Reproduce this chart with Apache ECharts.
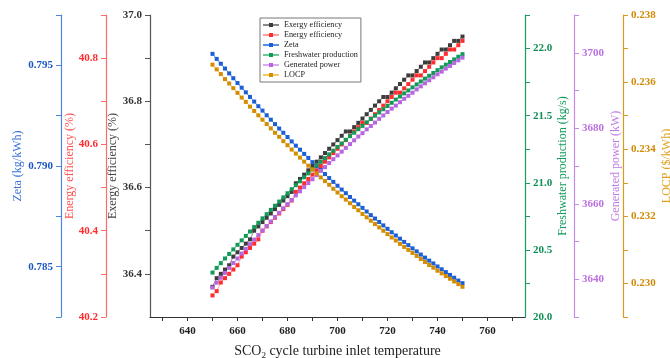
<!DOCTYPE html>
<html>
<head>
<meta charset="utf-8">
<script src="https://cdn.jsdelivr.net/npm/echarts@6/dist/echarts.min.js"></script>
<style>
html,body{margin:0;padding:0;background:#fff;}
#chart{width:670px;height:358px;}
</style>
</head>
<body>
<div id="chart"></div>
<script>
// turbine inlet temperature, 61 points from 650 to 750
var temps = [650,651.67,653.33,655,656.67,658.33,660,661.67,663.33,665,666.67,668.33,670,671.67,673.33,675,676.67,678.33,680,681.67,683.33,685,686.67,688.33,690,691.67,693.33,695,696.67,698.33,700,701.67,703.33,705,706.67,708.33,710,711.67,713.33,715,716.67,718.33,720,721.67,723.33,725,726.67,728.33,730,731.67,733.33,735,736.67,738.33,740,741.67,743.33,745,746.67,748.33,750];

var exergyEff = [36.37,36.39,36.40,36.41,36.42,36.44,36.45,36.46,36.47,36.48,36.50,36.51,36.52,36.53,36.54,36.55,36.56,36.57,36.58,36.59,36.61,36.62,36.63,36.64,36.65,36.66,36.67,36.68,36.69,36.70,36.71,36.72,36.73,36.73,36.74,36.75,36.76,36.77,36.78,36.79,36.80,36.81,36.81,36.82,36.83,36.84,36.85,36.86,36.86,36.87,36.88,36.89,36.89,36.90,36.91,36.92,36.92,36.93,36.94,36.94,36.95];

var energyEff = [40.25,40.26,40.28,40.29,40.30,40.31,40.32,40.34,40.35,40.36,40.37,40.38,40.40,40.41,40.42,40.43,40.44,40.45,40.46,40.47,40.49,40.50,40.51,40.52,40.53,40.54,40.55,40.56,40.57,40.58,40.59,40.60,40.61,40.62,40.63,40.64,40.65,40.65,40.66,40.67,40.68,40.69,40.70,40.71,40.72,40.72,40.73,40.74,40.75,40.76,40.76,40.77,40.78,40.79,40.80,40.80,40.81,40.82,40.82,40.83,40.84];

var zeta = [0.79557,0.79532,0.79508,0.79484,0.79460,0.79436,0.79412,0.79389,0.79366,0.79343,0.79320,0.79297,0.79275,0.79252,0.79230,0.79208,0.79186,0.79165,0.79144,0.79122,0.79101,0.79081,0.79060,0.79040,0.79019,0.78999,0.78980,0.78960,0.78940,0.78921,0.78902,0.78883,0.78865,0.78846,0.78828,0.78810,0.78792,0.78774,0.78756,0.78739,0.78722,0.78705,0.78688,0.78671,0.78655,0.78639,0.78623,0.78607,0.78591,0.78576,0.78560,0.78545,0.78530,0.78516,0.78501,0.78487,0.78473,0.78459,0.78445,0.78431,0.78418];

var freshwater = [20.331,20.366,20.401,20.436,20.470,20.504,20.538,20.571,20.604,20.637,20.670,20.702,20.735,20.766,20.798,20.829,20.860,20.891,20.922,20.952,20.982,21.011,21.041,21.070,21.099,21.128,21.156,21.184,21.212,21.239,21.267,21.293,21.320,21.347,21.373,21.399,21.424,21.450,21.475,21.500,21.524,21.548,21.572,21.596,21.620,21.643,21.666,21.688,21.711,21.733,21.755,21.776,21.797,21.818,21.839,21.860,21.880,21.900,21.919,21.939,21.958];

var power = [3637.8,3639.1,3640.4,3641.7,3643.0,3644.3,3645.5,3646.8,3648.0,3649.3,3650.5,3651.7,3652.9,3654.1,3655.3,3656.5,3657.6,3658.8,3659.9,3661.0,3662.2,3663.3,3664.4,3665.5,3666.5,3667.6,3668.7,3669.7,3670.8,3671.8,3672.8,3673.8,3674.8,3675.8,3676.8,3677.8,3678.7,3679.7,3680.6,3681.5,3682.5,3683.4,3684.3,3685.2,3686.0,3686.9,3687.8,3688.6,3689.4,3690.3,3691.1,3691.9,3692.7,3693.5,3694.3,3695.0,3695.8,3696.5,3697.3,3698.0,3698.7];

var locp = [0.23652,0.23638,0.23624,0.23609,0.23596,0.23582,0.23568,0.23554,0.23541,0.23527,0.23514,0.23501,0.23488,0.23475,0.23462,0.23449,0.23437,0.23424,0.23412,0.23399,0.23387,0.23375,0.23363,0.23351,0.23340,0.23328,0.23316,0.23305,0.23294,0.23282,0.23271,0.23260,0.23250,0.23239,0.23228,0.23218,0.23207,0.23197,0.23187,0.23177,0.23167,0.23157,0.23147,0.23137,0.23128,0.23118,0.23109,0.23100,0.23091,0.23082,0.23073,0.23064,0.23055,0.23047,0.23038,0.23030,0.23022,0.23014,0.23006,0.22998,0.22990];

var xLabels = [640,660,680,700,720,740,760];
var xTicks = [630,640,650,660,670,680,690,700,710,720,730,740,750,760,770];

var FONT = 'Liberation Serif';

function pairs(ys){
	var out = [];
	for (var i = 0; i < temps.length; i++) out.push([temps[i], ys[i]]);
	return out;
}

function yAx(opt){
	return {
		type:'value', position:opt.pos, offset:opt.offset, min:opt.min, max:opt.max,
		name:opt.name, nameLocation:'middle', nameRotate:90, nameGap:opt.gap, nameMoveOverlap:false,
		nameTextStyle:{color:opt.nameColor||opt.color, fontFamily:FONT, fontSize:12},
		axisLine:{show:true, onZero:false, lineStyle:{color:opt.lineColor||opt.color, width:1.2}},
		axisTick:{show:true, inside:false, length:5, customValues:opt.ticks, lineStyle:{color:opt.lineColor||opt.color}},
		axisLabel:{show:true, margin:8, customValues:opt.labels, color:opt.color, fontFamily:FONT, fontSize:11, fontWeight:'bold',
			formatter:function(v){ return v.toFixed(opt.dec); }},
		splitLine:{show:false}
	};
}

function ser(name, idx, ys, mark, line){
	return {
		name:name, type:'line', yAxisIndex:idx, data:pairs(ys),
		symbol:'rect', symbolSize:4, showAllSymbol:true,
		itemStyle:{color:mark},
		lineStyle:{color:line, width:1},
		emphasis:{disabled:true}
	};
}

var chart = echarts.init(document.getElementById('chart'));
chart.setOption({
	animation:false,
	textStyle:{fontFamily:FONT},
	grid:{left:150, right:145, top:15, bottom:41, containLabel:false, outerBoundsMode:'none'},
	legend:{
		orient:'vertical', left:260, top:18, padding:[3,3,3,2], itemGap:2,
		itemWidth:16, itemHeight:5, borderColor:'#777', borderWidth:1,
		backgroundColor:'#fff',
		textStyle:{fontFamily:FONT, fontSize:8.2, color:'#222'},
		data:['Exergy efficiency','Energy efficiency','Zeta','Freshwater production','Generated power','LOCP']
	},
	xAxis:{
		type:'value', min:625, max:775,
		name:'SCO{s|2} cycle turbine inlet temperature', nameLocation:'middle', nameGap:26,
		nameTextStyle:{color:'#222', fontFamily:FONT, fontSize:14, rich:{s:{fontSize:9, padding:[8,0,0,0], fontFamily:FONT, color:'#222'}}},
		axisLine:{show:true, onZero:false, lineStyle:{color:'#333', width:1.2}},
		axisTick:{show:true, length:4, customValues:xTicks, lineStyle:{color:'#333'}},
		axisLabel:{customValues:xLabels, color:'#222', fontFamily:FONT, fontSize:11, fontWeight:'bold', margin:9},
		splitLine:{show:false}
	},
	yAxis:[
		yAx({pos:'left', offset:0, min:36.3, max:37.0, name:'Exergy efficiency (%)', gap:31, color:'#333', lineColor:'#555', nameColor:'#444', dec:1,
			labels:[36.4,36.6,36.8,37.0], ticks:[36.4,36.5,36.6,36.7,36.8,36.9,37.0]}),
		yAx({pos:'left', offset:44, min:40.2, max:40.9, name:'Energy efficiency (%)', gap:30, color:'#ff2a2a', lineColor:'#ff6b6b', nameColor:'#ff5050', dec:1,
			labels:[40.2,40.4,40.6,40.8], ticks:[40.2,40.3,40.4,40.5,40.6,40.7,40.8,40.9]}),
		yAx({pos:'left', offset:89, min:0.7825, max:0.7975, name:'Zeta (kg/kWh)', gap:37, color:'#1a56c8', lineColor:'#4f86e0', nameColor:'#3a72d8', dec:3,
			labels:[0.785,0.790,0.795], ticks:[0.7825,0.785,0.7875,0.790,0.7925,0.795,0.7975]}),
		yAx({pos:'right', offset:0, min:20.0, max:22.25, name:'Freshwater production (kg/s)', gap:32, color:'#0f8f55', lineColor:'#1a9a5c', nameColor:'#129a58', dec:1,
			labels:[20.0,20.5,21.0,21.5,22.0], ticks:[20.25,20.5,20.75,21.0,21.25,21.5,21.75,22.0,22.25]}),
		yAx({pos:'right', offset:49, min:3630, max:3710, name:'Generated power (kW)', gap:36, color:'#bb6ee0', lineColor:'#c88ae8', nameColor:'#c07ae6', dec:0,
			labels:[3640,3660,3680,3700], ticks:[3630,3640,3650,3660,3670,3680,3690,3700,3710]}),
		yAx({pos:'right', offset:98, min:0.229, max:0.238, name:'LOCP ($/kWh)', gap:38, color:'#d18b08', lineColor:'#d99a20', nameColor:'#e0a020', dec:3,
			labels:[0.230,0.232,0.234,0.236,0.238], ticks:[0.229,0.230,0.231,0.232,0.233,0.234,0.235,0.236,0.237,0.238]})
	],
	series:[
		ser('Exergy efficiency', 0, exergyEff, '#3c3c3c', '#8a8a8a'),
		ser('Energy efficiency', 1, energyEff, '#ff2d2d', '#ffa0a0'),
		ser('Zeta', 2, zeta, '#1a5fd6', '#5a90e8'),
		ser('Freshwater production', 3, freshwater, '#119a57', '#70c79a'),
		ser('Generated power', 4, power, '#b765e0', '#dcaaf0'),
		ser('LOCP', 5, locp, '#d48c00', '#f2cc66')
	]
});
</script>
</body>
</html>
